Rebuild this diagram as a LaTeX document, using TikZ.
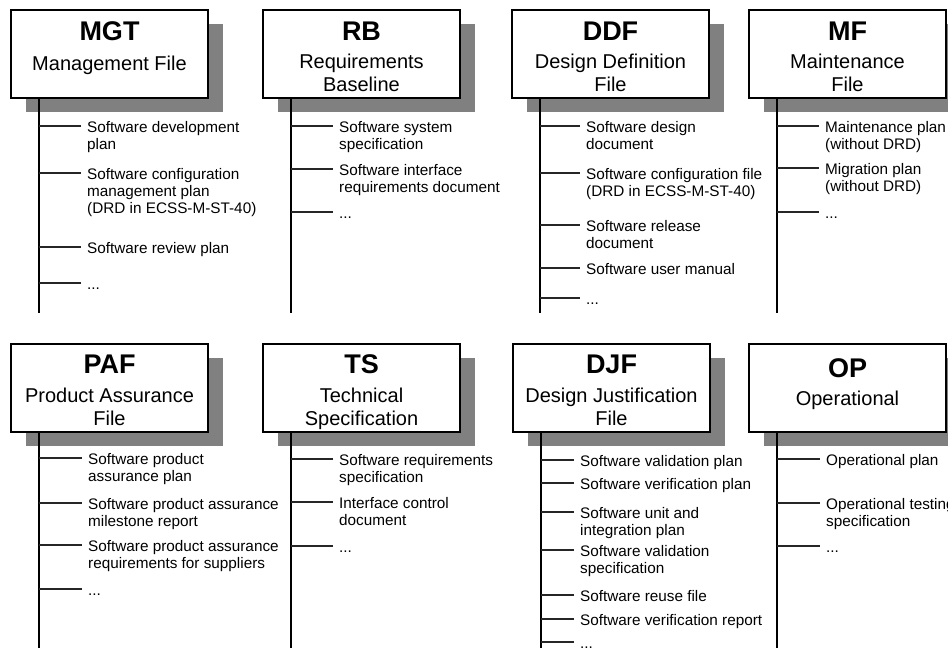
\documentclass[tikz,border=0pt]{standalone}
\usepackage{fontspec}
\setmainfont{Liberation Sans}
\usetikzlibrary{shadows}
\definecolor{ShadowClr}{rgb}{0.5,0.5,0.5}
\definecolor{BranchClr}{rgb}{0.15,0.15,0.15}

\begin{document}
\begin{tikzpicture}[x=1pt,y=-1pt,
  filebox/.style={draw,line width=2pt,fill=white,minimum width=197pt,minimum height=88pt,
    anchor=north west,inner sep=0pt,
    drop shadow={shadow xshift=15pt,shadow yshift=-14pt,fill=ShadowClr,opacity=1}},
  boxtitle/.style={font=\bfseries\fontsize{27}{30}\selectfont,inner sep=0pt},
  boxsub/.style={font=\fontsize{20}{23}\selectfont,align=center,inner sep=0pt,anchor=north},
  item/.style={font=\fontsize{15.3}{17}\selectfont,align=left,inner sep=0pt,anchor=north west},
  stem/.style={line width=2pt},
  branch/.style={line width=1.2pt,BranchClr}]
\useasboundingbox (0,0) rectangle (948,648);

\node[filebox] (mgt) at (10,9) {};
\node[boxtitle] (mgt-t) at ([yshift=-22pt]mgt.north) {MGT};
\node[boxsub] (mgt-s) at ([yshift=-47pt]mgt.north) {Management File};
\coordinate (mgt-foot) at (39,313);
\draw[stem] (mgt.south -| mgt-foot) -- (mgt-foot);
\foreach \y/\txt [count=\n] in {126/{Software development\\plan},
  173/{Software configuration\\management plan\\(DRD in ECSS-M-ST-40)},
  247/{Software review plan},283/{...}}{
  \node[item] (mgt-\n) at (87,\y-6) {\strut\txt};
  \draw[branch] (mgt-\n.north west) ++(-6pt,-6pt) -- ++(-42pt,0);
}

\node[filebox] (rb) at (262,9) {};
\node[boxtitle] (rb-t) at ([yshift=-22pt]rb.north) {RB};
\node[boxsub] (rb-s) at ([yshift=-45pt]rb.north) {Requirements\\Baseline};
\coordinate (rb-foot) at (291,313);
\draw[stem] (rb.south -| rb-foot) -- (rb-foot);
\foreach \y/\txt [count=\n] in {126/{Software system\\specification},
  169/{Software interface\\requirements document},212/{...}}{
  \node[item] (rb-\n) at (339,\y-6) {\strut\txt};
  \draw[branch] (rb-\n.north west) ++(-6pt,-6pt) -- ++(-42pt,0);
}

\node[filebox] (ddf) at (511,9) {};
\node[boxtitle] (ddf-t) at ([yshift=-22pt]ddf.north) {DDF};
\node[boxsub] (ddf-s) at ([yshift=-45pt]ddf.north) {Design Definition\\File};
\coordinate (ddf-foot) at (540,313);
\draw[stem] (ddf.south -| ddf-foot) -- (ddf-foot);
\foreach \y/\txt [count=\n] in {126/{Software design\\document},
  173/{Software configuration file\\(DRD in ECSS-M-ST-40)},
  225/{Software release\\document},268/{Software user manual},298/{...}}{
  \node[item] (ddf-\n) at (586,\y-6) {\strut\txt};
  \draw[branch] (ddf-\n.north west) ++(-6pt,-6pt) -- ++(-40pt,0);
}

\node[filebox] (mf) at (748,9) {};
\node[boxtitle] (mf-t) at ([yshift=-22pt]mf.north) {MF};
\node[boxsub] (mf-s) at ([yshift=-45pt]mf.north) {Maintenance\\File};
\coordinate (mf-foot) at (777,313);
\draw[stem] (mf.south -| mf-foot) -- (mf-foot);
\foreach \y/\txt [count=\n] in {126/{Maintenance plan\\(without DRD)},
  168/{Migration plan\\(without DRD)},212/{...}}{
  \node[item] (mf-\n) at (825,\y-6) {\strut\txt};
  \draw[branch] (mf-\n.north west) ++(-6pt,-6pt) -- ++(-42pt,0);
}

\node[filebox] (paf) at (10,343) {};
\node[boxtitle] (paf-t) at ([yshift=-21pt]paf.north) {PAF};
\node[boxsub] (paf-s) at ([yshift=-45pt]paf.north) {Product Assurance\\File};
\coordinate (paf-foot) at (39,652);
\draw[stem] (paf.south -| paf-foot) -- (paf-foot);
\foreach \y/\txt [count=\n] in {458/{Software product\\assurance plan},
  503/{Software product assurance\\milestone report},
  545/{Software product assurance\\requirements for suppliers},589/{...}}{
  \node[item] (paf-\n) at (88,\y-6) {\strut\txt};
  \draw[branch] (paf-\n.north west) ++(-6pt,-6pt) -- ++(-43pt,0);
}

\node[filebox] (ts) at (262,343) {};
\node[boxtitle] (ts-t) at ([yshift=-21pt]ts.north) {TS};
\node[boxsub] (ts-s) at ([yshift=-45pt]ts.north) {Technical\\Specification};
\coordinate (ts-foot) at (291,652);
\draw[stem] (ts.south -| ts-foot) -- (ts-foot);
\foreach \y/\txt [count=\n] in {459/{Software requirements\\specification},
  502/{Interface control\\document},546/{...}}{
  \node[item] (ts-\n) at (339,\y-6) {\strut\txt};
  \draw[branch] (ts-\n.north west) ++(-6pt,-6pt) -- ++(-42pt,0);
}

\node[filebox] (djf) at (512,343) {};
\node[boxtitle] (djf-t) at ([yshift=-21pt]djf.north) {DJF};
\node[boxsub] (djf-s) at ([yshift=-45pt]djf.north) {Design Justification\\File};
\coordinate (djf-foot) at (541,652);
\draw[stem] (djf.south -| djf-foot) -- (djf-foot);
\foreach \y/\txt [count=\n] in {460/{Software validation plan},
  483/{Software verification plan},512/{Software unit and\\integration plan},
  550/{Software validation\\specification},595/{Software reuse file},
  619/{Software verification report},642/{...}}{
  \node[item] (djf-\n) at (580,\y-6) {\strut\txt};
  \draw[branch] (djf-\n.north west) ++(-6pt,-6pt) -- ++(-33pt,0);
}

\node[filebox] (op) at (748,343) {};
\node[boxtitle] (op-t) at ([yshift=-25pt]op.north) {OP};
\node[boxsub] (op-s) at ([yshift=-48pt]op.north) {Operational};
\coordinate (op-foot) at (777,652);
\draw[stem] (op.south -| op-foot) -- (op-foot);
\foreach \y/\txt [count=\n] in {459/{Operational plan},
  503/{Operational testing\\specification},546/{...}}{
  \node[item] (op-\n) at (826,\y-6) {\strut\txt};
  \draw[branch] (op-\n.north west) ++(-6pt,-6pt) -- ++(-43pt,0);
}
\end{tikzpicture}
\end{document}
